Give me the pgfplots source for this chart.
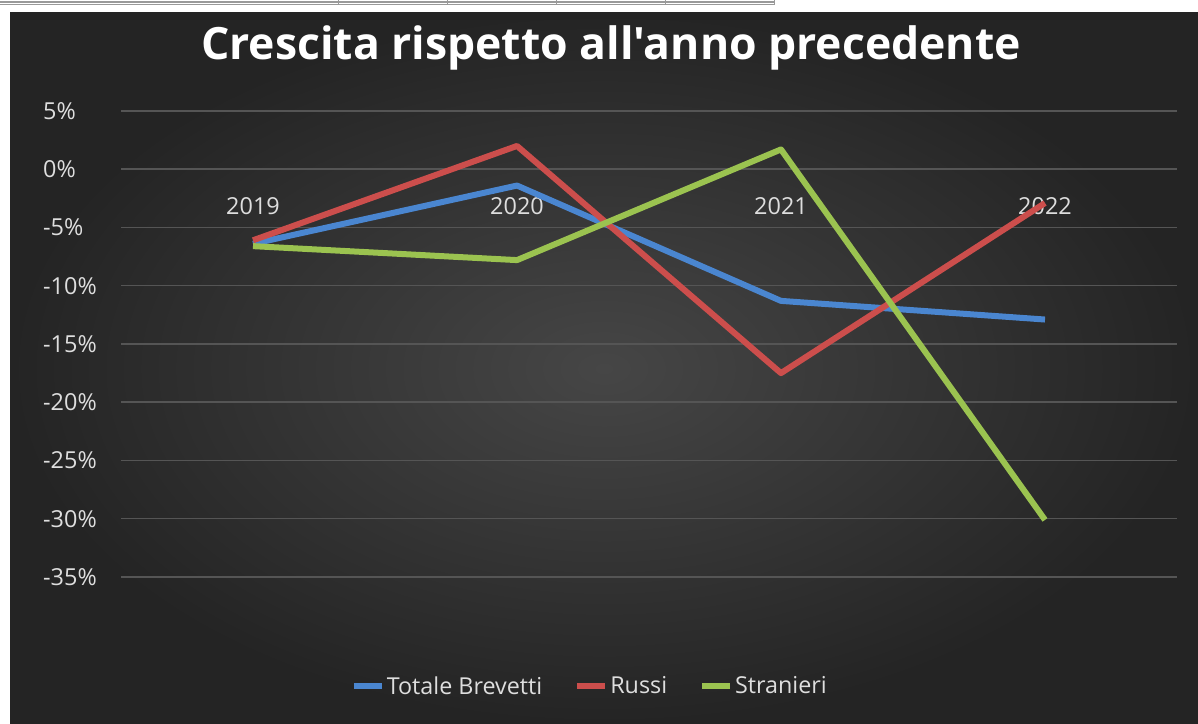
\documentclass[border=0pt]{standalone}
\usepackage{pgfplots}
\pgfplotsset{compat=1.18}
\usepackage{fontspec}
\setmainfont{Open Sans}
\newfontfamily\titlefont{Open Sans}
\definecolor{bgin}{RGB}{70,70,70}
\definecolor{bgout}{RGB}{36,36,36}
\definecolor{gridc}{RGB}{85,85,85}
\definecolor{txt}{RGB}{222,222,222}
\definecolor{cblue}{RGB}{74,134,208}
\definecolor{cred}{RGB}{204,78,76}
\definecolor{cgreen}{RGB}{155,195,80}
\begin{document}
\begin{tikzpicture}[x=1bp,y=1bp]
\fill[white] (0,0) rectangle (1198,724);
\useasboundingbox (0,0) rectangle (1198,724);
% spreadsheet strip above the chart
\draw[gray!80,line width=1.2bp] (0,722) -- (774,722);
\draw[gray!80,line width=1.2bp] (0,719.5) -- (774,719.5);
\foreach \xx in {338,447,556,665,774} \draw[gray!80,line width=1bp] (\xx,719) -- (\xx,724);
\shade[inner color=bgin,outer color=bgout] (10,0) rectangle (1198,711);
\node[text=white,font=\titlefont\fontsize{44.7}{50}\selectfont\bfseries] at (611,676) {Crescita rispetto all'anno precedente};
\begin{axis}[
  at={(121bp,147bp)}, anchor=south west,
  scale only axis, width=1056bp, height=466bp,
  xmin=-0.5, xmax=3.5, ymin=-35, ymax=5,
  axis x line=middle, axis y line=left,
  axis line style={draw=none},
  xtick={0,1,2,3}, xticklabels={2019,2020,2021,2022},
  ytick={-35,-30,...,5},
  yticklabel={\pgfmathprintnumber{\tick}\%},
  major tick length=0pt,
  ymajorgrids, grid style={gridc,line width=1.5bp},
  tick label style={text=txt,font=\fontsize{23.5}{27}\selectfont},
  /pgf/number format/assume math mode=true,
  yticklabel style={anchor=west,inner sep=0pt,xshift=-78bp},
  xticklabel style={anchor=north,inner sep=0pt,yshift=-28bp},
  legend style={at={(0.444,-0.234)},anchor=center,draw=none,fill=none,
    text=txt,font=\fontsize{23.4}{27}\selectfont,legend columns=-1,
    /tikz/every even column/.append style={column sep=30bp}},
  legend image code/.code={\draw[line width=6bp] (0bp,0bp) -- (28bp,0bp);},
  every axis plot/.append style={line width=6bp,line join=round},
  clip=false,
]
\addplot[cblue] coordinates {(0,-6.4) (1,-1.4) (2,-11.3) (3,-12.9)};
\addplot[cred] coordinates {(0,-6.1) (1,2.0) (2,-17.5) (3,-2.9)};
\addplot[cgreen] coordinates {(0,-6.6) (1,-7.8) (2,1.7) (3,-30.1)};
\legend{Totale Brevetti,Russi,Stranieri}
\end{axis}
\end{tikzpicture}
\end{document}
